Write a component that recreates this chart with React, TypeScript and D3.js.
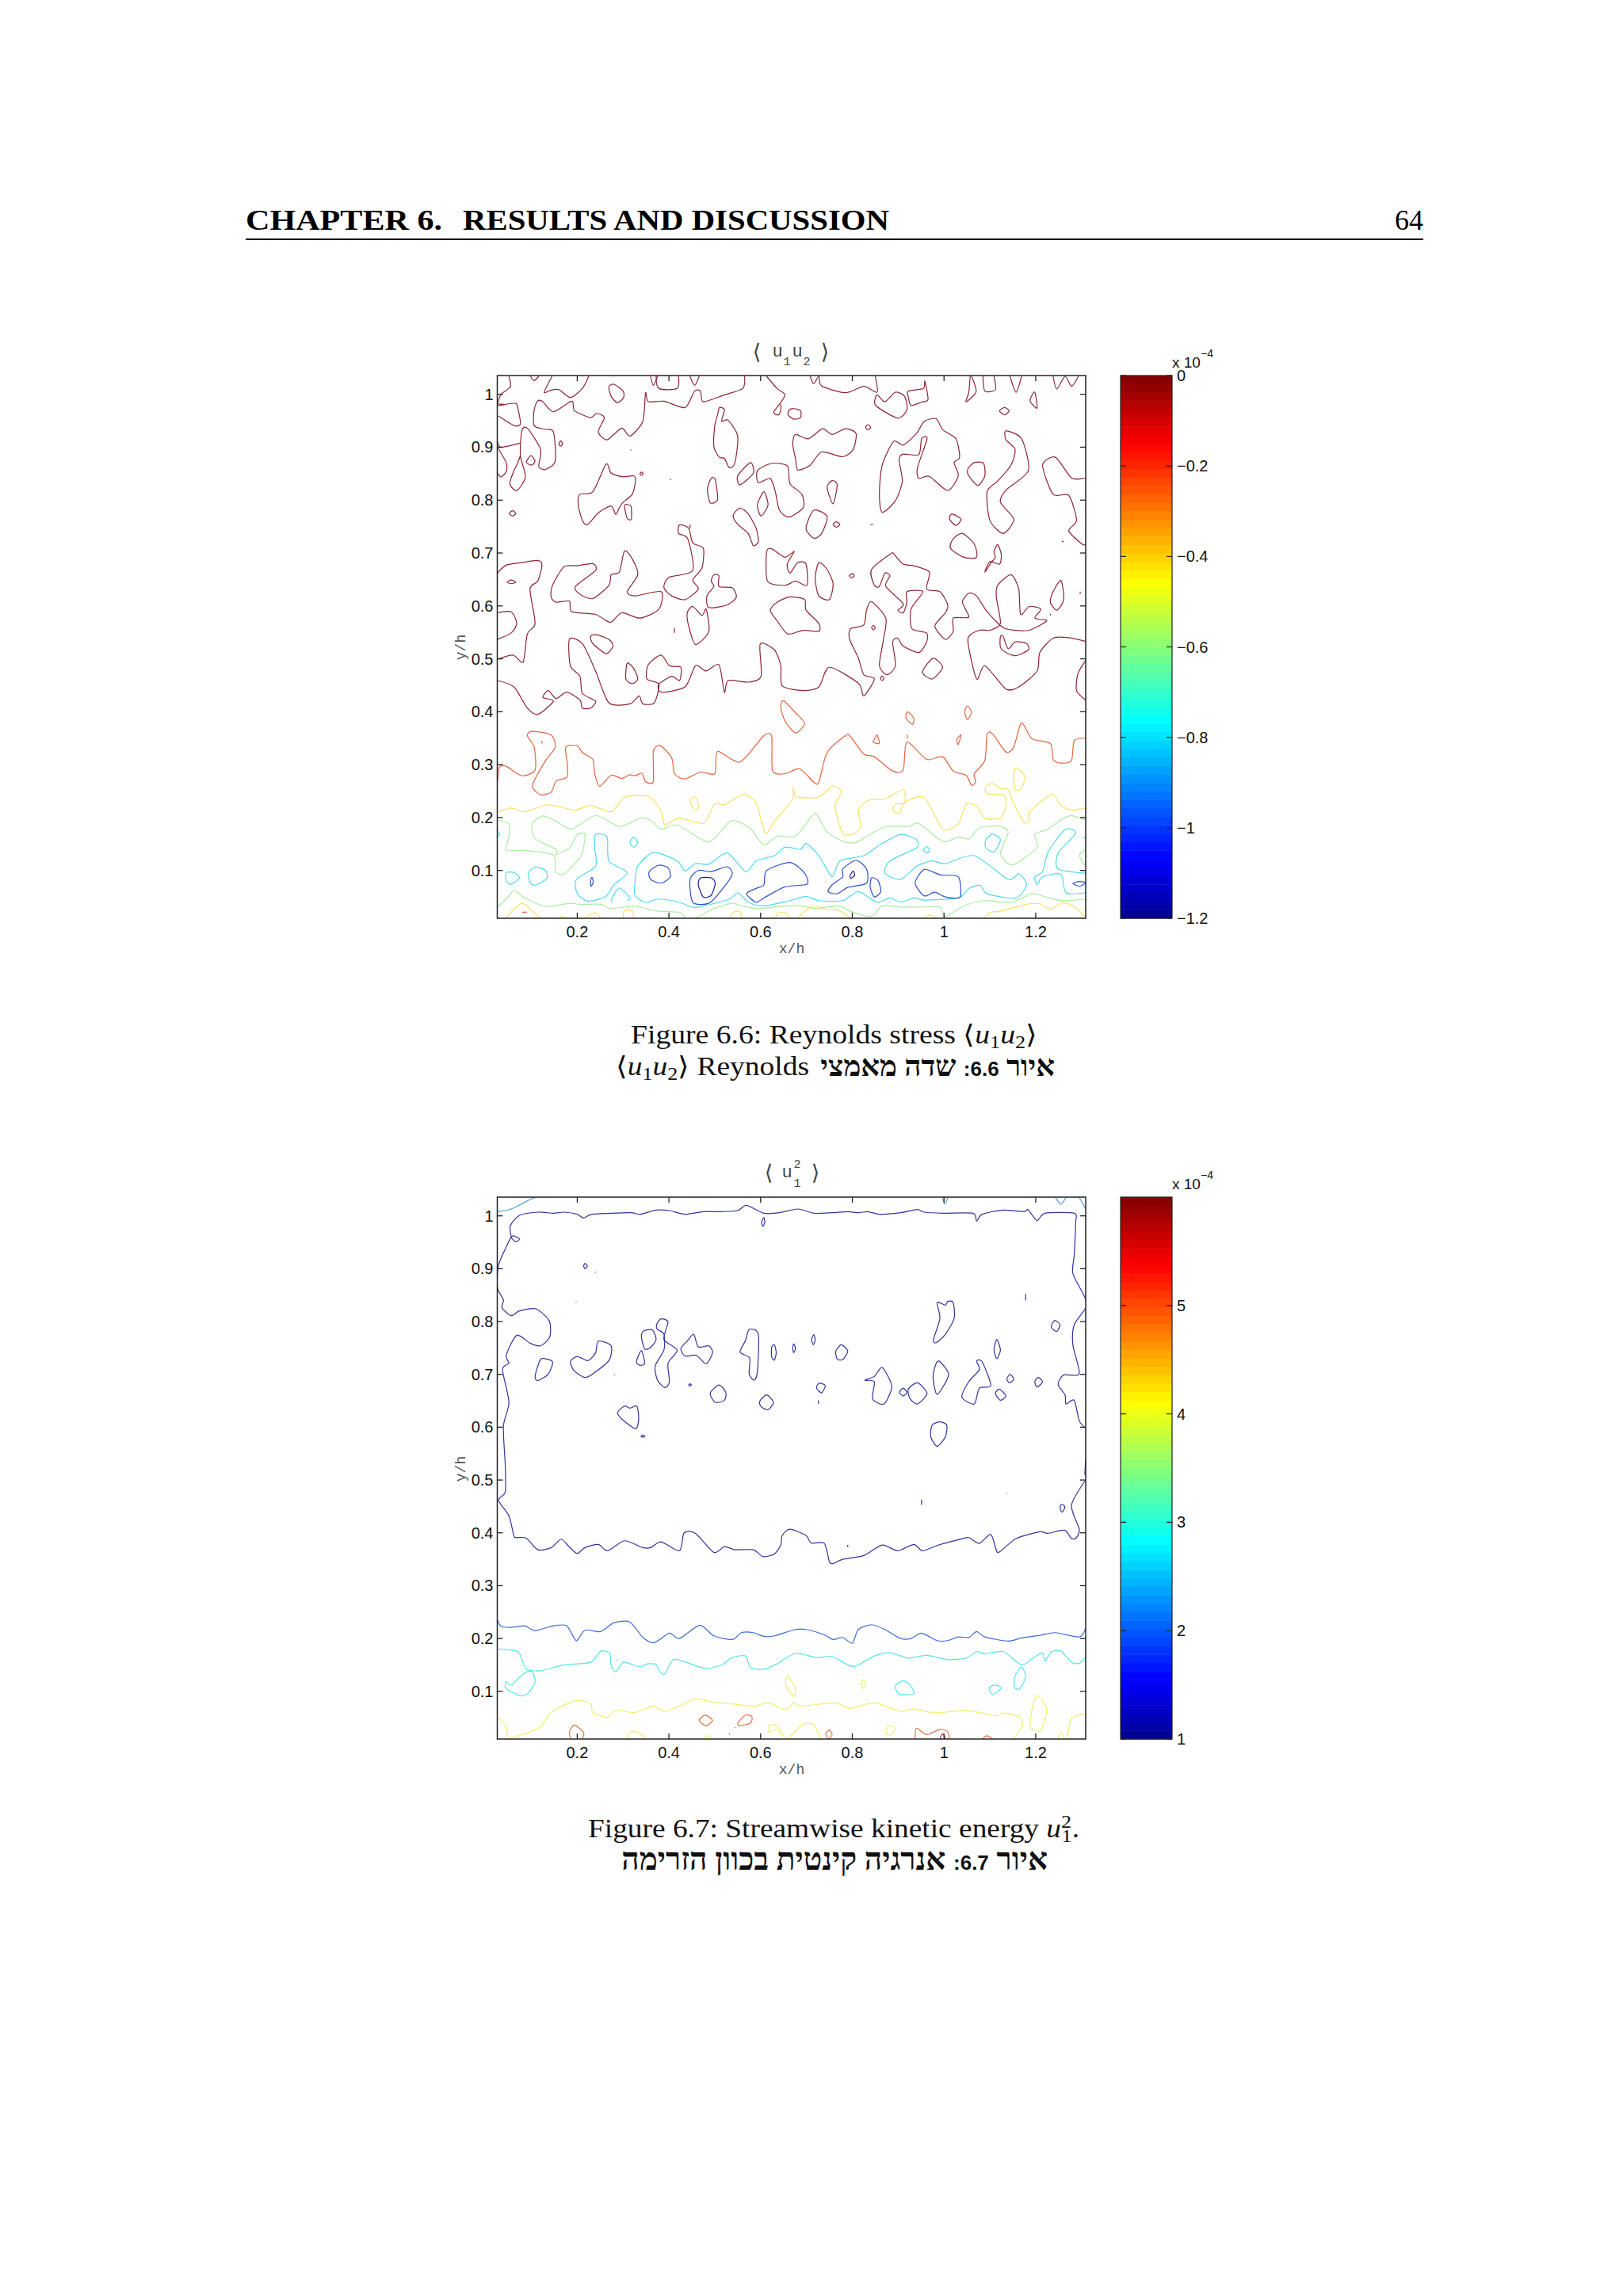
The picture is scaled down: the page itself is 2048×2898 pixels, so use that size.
import React from 'react';
import * as d3 from 'd3';

type Pt = number[];

// tick labels
const xTicks = [0.2, 0.4, 0.6, 0.8, 1, 1.2];
const yTicks = [0.1, 0.2, 0.3, 0.4, 0.5, 0.6, 0.7, 0.8, 0.9, 1];
const xDomain = [0.0256, 1.309];
const yDomain = [0.0097, 1.0355];
const stressBarTicks = [0, -0.2, -0.4, -0.6, -0.8, -1, -1.2];
const energyBarTicks = [1, 2, 3, 4, 5];

// <u1u2> contours, one pair of lists per level, in x/h and y/h
const stressDarkOpen: Pt[][] = [
  [[.051,1.034],[.054,1.014],[.034,1],[.027,.984]],
  [[.026,.982],[.043,.981],[.026,.979]],
  [[.098,1.034],[.106,1.026],[.116,1.034]],
  [[.145,1.034],[.128,1.004],[.143,1.008],[.16,1.009],[.185,.994],[.211,1.011],[.225,1.034]],
  [[.565,1.034],[.561,1.011],[.521,.999],[.475,.986],[.469,1.006],[.456,1.006],[.435,.975],[.389,.987],[.355,.986],[.349,1.003],[.343,.949],[.315,.921],[.297,.936],[.265,.914],[.246,.929],[.259,.956],[.242,.964],[.229,.956],[.194,.969],[.188,.987],[.148,.967],[.125,.986],[.114,.988],[.106,.971],[.106,.941],[.128,.934],[.148,.929],[.152,.874],[.131,.858],[.116,.864],[.12,.896],[.091,.936],[.079,.931],[.076,.884],[.087,.844],[.068,.818],[.053,.831],[.062,.856],[.068,.866],[.076,.884]],
  [[.026,.911],[.034,.9],[.077,.908]],
  [[.026,.9],[.045,.871],[.045,.854],[.034,.844],[.026,.851]],
  [[.028,.959],[.062,.941],[.076,.944],[.07,.976],[.066,.983],[.043,.981]],
  [[.317,.896],[.317,.894]],
  [[.403,.84],[.403,.838]],
  [[.613,1.034],[.636,1.011],[.653,.999],[.641,.981],[.628,.966],[.639,.961],[.644,.971],[.644,.981]],
  [[.36,1.034],[.366,1.017],[.375,1.034]],
  [[.421,1.034],[.418,1.011],[.378,1.011],[.372,1.034]],
  [[.446,1.034],[.456,1.017],[.466,1.034]],
  [[.708,1.034],[.716,1.02],[.727,1.034],[.733,1.016],[.785,1.003],[.825,1.015],[.854,1.004],[.85,1.034]],
  [[1.06,1.034],[1.07,1.005],[1.048,.986],[1.054,1.004],[1.057,1.034]],
  [[1.085,1.034],[1.089,1.006],[1.112,1.009],[1.109,1.034]],
  [[1.144,1.034],[1.157,1.004],[1.169,1.034]],
  [[1.238,1.034],[1.246,1.01],[1.264,1.034],[1.278,1.015],[1.293,1.034]],
  [[1.309,.842],[1.278,.842],[1.243,.881],[1.215,.866],[1.238,.811],[1.272,.809],[1.289,.762],[1.272,.742],[1.301,.717],[1.309,.716]],
  [[.84,.754],[.845,.754]],
  [[1.257,.722],[1.261,.722]],
  [[1.297,.627],[1.297,.623]],
  [[.446,.754],[.446,.747]],
  [[.026,.662],[.045,.677],[.079,.682],[.114,.686],[.123,.677],[.114,.647],[.097,.632],[.108,.567],[.091,.547],[.082,.494],[.06,.507],[.026,.499]],
  [[.026,.587],[.056,.589],[.068,.567],[.056,.549],[.026,.537]],
  [[.412,.559],[.412,.549]],
  [[1.232,.585],[1.232,.582]],
  [[1.309,.497],[1.292,.472],[1.289,.44],[1.309,.422]],
  [[.888,.701],[.911,.679],[.934,.676],[.968,.664],[.962,.632],[.991,.627],[1.008,.602],[1.003,.587],[.98,.562],[1.003,.537],[1.02,.552],[1.02,.577],[1.054,.579],[1.04,.607],[1.054,.624],[1.071,.619],[1.094,.589],[1.129,.559],[1.157,.554],[1.186,.554],[1.224,.572],[1.198,.577],[1.211,.594],[1.186,.599],[1.167,.584],[1.163,.632],[1.146,.659],[1.117,.639],[1.114,.617],[1.123,.567],[1.1,.554],[1.077,.554],[1.052,.537],[1.071,.462],[1.089,.487],[1.135,.443],[1.163,.447],[1.203,.477],[1.209,.512],[1.238,.539],[1.272,.54],[1.309,.533]],
  [[.888,.701],[.842,.669],[.848,.639],[.859,.637],[.871,.662],[.882,.657],[.873,.637],[.911,.604],[.899,.592],[.911,.587],[.919,.607],[.919,.627],[.954,.627],[.928,.594],[.93,.557],[.962,.549],[.962,.532],[.945,.512],[.911,.524],[.899,.539],[.888,.532],[.894,.487],[.876,.47],[.859,.487],[.868,.537],[.873,.577],[.842,.608],[.831,.592],[.825,.564],[.796,.557],[.794,.537],[.813,.502],[.825,.47],[.848,.462],[.825,.43],[.813,.454],[.75,.484],[.727,.447],[.693,.44],[.647,.449],[.644,.487],[.63,.517],[.599,.528],[.601,.467],[.573,.456],[.529,.459],[.521,.437],[.509,.489],[.481,.477],[.458,.487],[.435,.447],[.383,.437],[.378,.452],[.406,.467],[.423,.459],[.426,.484],[.401,.487],[.383,.507],[.355,.489],[.352,.462],[.378,.452],[.368,.417],[.343,.415],[.335,.43],[.315,.415],[.269,.417],[.24,.477],[.211,.529],[.183,.537],[.185,.487],[.206,.467],[.211,.435],[.24,.42],[.229,.407],[.211,.407],[.206,.422],[.177,.437],[.154,.425],[.137,.44],[.125,.427],[.148,.42],[.114,.395],[.091,.407],[.062,.447],[.026,.459]],
];
const stressDarkRings: Pt[][] = [
  [[.269,1.014],[.28,1.019],[.3,1.006],[.301,.994],[.288,.984],[.274,.996]],
  [[.099,.884],[.108,.874],[.1,.866],[.089,.872]],
  [[.164,.912],[.168,.906],[.164,.902],[.16,.906]],
  [[.34,.853],[.344,.85],[.34,.847],[.337,.85]],
  [[.263,.868],[.274,.851],[.3,.844],[.323,.846],[.327,.836],[.32,.811],[.3,.796],[.292,.786],[.284,.773],[.274,.789],[.246,.776],[.223,.754],[.211,.762],[.202,.792],[.206,.811],[.234,.816]],
  [[.303,.79],[.317,.789],[.318,.764],[.309,.766]],
  [[.059,.78],[.066,.775],[.059,.77],[.052,.775]],
  [[.51,.975],[.521,.971],[.515,.949],[.529,.951],[.55,.921],[.544,.871],[.532,.861],[.521,.879],[.51,.881],[.498,.901],[.5,.941],[.506,.961]],
  [[.672,.973],[.687,.969],[.687,.956],[.673,.953],[.66,.961],[.662,.97]],
  [[.854,.999],[.851,.979],[.899,.955],[.919,.971],[.914,.996],[.894,1.004],[.871,.986]],
  [[.922,1.006],[.955,1.011],[.958,1.025],[.965,.99],[.95,.985],[.928,.979],[.922,.995]],
  [[1.198,1.004],[1.203,.974],[1.188,.986],[1.19,.995]],
  [[1.132,.975],[1.142,.969],[1.132,.961],[1.121,.969]],
  [[.834,.943],[.84,.937],[.834,.933],[.829,.937]],
  [[.676,.924],[.704,.916],[.735,.935],[.756,.924],[.785,.935],[.808,.926],[.802,.896],[.779,.882],[.733,.891],[.708,.866],[.681,.857],[.676,.879],[.67,.906]],
  [[.89,.911],[.911,.904],[.94,.926],[.957,.949],[.983,.954],[.997,.933],[1.026,.916],[1.034,.881],[1.022,.871],[1.031,.846],[1.008,.818],[.968,.845],[.945,.841],[.942,.861],[.963,.916],[.951,.916],[.945,.886],[.911,.887],[.902,.876],[.909,.836],[.894,.799],[.865,.777],[.859,.811],[.865,.866]],
  [[1.066,.871],[1.086,.87],[1.089,.846],[1.074,.828],[1.054,.846],[1.052,.859]],
  [[1.135,.931],[1.169,.916],[1.184,.856],[1.135,.819],[1.123,.796],[1.152,.764],[1.129,.737],[1.1,.762],[1.094,.816],[1.117,.836],[1.146,.866],[1.155,.896],[1.135,.914]],
  [[.492,.841],[.501,.839],[.506,.801],[.49,.795],[.484,.821]],
  [[.578,.871],[.55,.846],[.555,.829],[.584,.851]],
  [[.63,.87],[.659,.864],[.664,.831],[.69,.811],[.693,.786],[.662,.768],[.641,.781],[.632,.816],[.621,.841],[.595,.833],[.592,.854],[.607,.864]],
  [[.607,.816],[.616,.791],[.601,.77],[.593,.791]],
  [[.756,.837],[.767,.829],[.758,.793],[.745,.824]],
  [[.555,.785],[.573,.774],[.59,.747],[.595,.722],[.584,.714],[.573,.737],[.55,.754],[.54,.771]],
  [[.716,.781],[.745,.769],[.733,.737],[.716,.728],[.699,.747]],
  [[.765,.759],[.773,.754],[.765,.749],[.758,.754]],
  [[1.017,.774],[1.037,.764],[1.026,.752],[1.012,.764]],
  [[1.04,.737],[1.066,.717],[1.071,.692],[1.043,.692],[1.014,.709],[1.02,.727]],
  [[1.117,.716],[1.125,.697],[1.121,.679],[1.1,.684],[1.089,.664],[1.103,.682],[1.112,.692],[1.109,.702]],
  [[.423,.753],[.443,.747],[.452,.719],[.475,.709],[.472,.672],[.452,.649],[.464,.632],[.435,.612],[.406,.619],[.389,.635],[.4,.654],[.452,.667],[.441,.727],[.421,.737]],
  [[.056,.649],[.066,.645],[.056,.642],[.047,.645]],
  [[.234,.68],[.24,.667],[.196,.637],[.206,.622],[.234,.614],[.269,.639],[.274,.659],[.292,.664],[.303,.704],[.32,.689],[.332,.659],[.309,.627],[.326,.619],[.383,.627],[.378,.594],[.337,.577],[.297,.587],[.272,.569],[.24,.584],[.188,.589],[.183,.609],[.154,.607],[.143,.617],[.146,.639],[.171,.674],[.2,.676]],
  [[.498,.659],[.509,.657],[.509,.637],[.538,.634],[.547,.617],[.527,.602],[.487,.597],[.483,.619],[.498,.637],[.492,.647]],
  [[.613,.702],[.624,.708],[.653,.692],[.673,.703],[.658,.679],[.664,.662],[.681,.682],[.699,.679],[.701,.639],[.676,.647],[.653,.639],[.615,.647]],
  [[.727,.682],[.745,.669],[.758,.642],[.75,.612],[.727,.619],[.719,.652]],
  [[.8,.661],[.804,.657],[.798,.653],[.793,.657]],
  [[.309,.492],[.323,.482],[.332,.462],[.32,.453],[.306,.462]],
  [[.24,.546],[.269,.537],[.278,.524],[.263,.51],[.234,.529],[.229,.542]],
  [[.452,.599],[.472,.582],[.481,.594],[.487,.552],[.458,.527],[.443,.562],[.44,.587]],
  [[.664,.617],[.696,.612],[.699,.592],[.727,.567],[.727,.552],[.693,.554],[.659,.547],[.636,.572],[.621,.592],[.636,.607]],
  [[.846,.563],[.85,.559],[.846,.555],[.842,.559]],
  [[1.255,.648],[1.261,.612],[1.246,.592],[1.232,.607],[1.238,.627]],
  [[1.129,.542],[1.14,.519],[1.155,.532],[1.18,.529],[1.184,.517],[1.157,.506],[1.135,.512],[1.123,.522],[1.123,.542]],
  [[.976,.501],[.997,.484],[.974,.462],[.953,.475]],
  [[.865,.467],[.869,.463],[.865,.459],[.861,.463]],
];
const stressOrangeOpen: Pt[][] = [
  [[.026,.267],[.03,.295],[.045,.297],[.079,.279],[.108,.29],[.106,.333],[.091,.355],[.102,.363],[.143,.356],[.152,.333],[.131,.308],[.108,.273],[.102,.258],[.12,.243],[.143,.248],[.154,.269],[.177,.276],[.179,.298],[.175,.333],[.2,.336],[.211,.323],[.234,.31],[.238,.283],[.249,.259],[.274,.28],[.297,.274],[.315,.281],[.326,.279],[.341,.284],[.349,.268],[.366,.268],[.366,.325],[.381,.336],[.406,.313],[.412,.283],[.435,.273],[.469,.286],[.5,.283],[.506,.325],[.555,.305],[.607,.355],[.624,.353],[.626,.288],[.653,.283],[.685,.292],[.716,.267],[.727,.267],[.745,.323],[.785,.355],[.796,.353],[.825,.32],[.848,.315],[.888,.288],[.911,.29],[.919,.343],[.962,.31],[.997,.315],[1.02,.288],[1.048,.28],[1.06,.261],[1.069,.268],[1.066,.283],[1.089,.308],[1.094,.358],[1.106,.358],[1.135,.324],[1.152,.333],[1.169,.379],[1.192,.349],[1.232,.34],[1.238,.31],[1.255,.303],[1.278,.308],[1.284,.345],[1.309,.35]],
  [[.123,.345],[.123,.34]],
  [[.92,.357],[.92,.349]],
  [[.08,.021],[.09,.021]],
];
const stressOrangeRings: Pt[][] = [
  [[.65,.421],[.676,.398],[.696,.378],[.676,.36],[.653,.383],[.644,.408]],
  [[.92,.4],[.934,.388],[.931,.376],[.917,.388]],
  [[1.051,.411],[1.06,.399],[1.051,.385],[1.045,.4]],
  [[.854,.356],[.859,.34],[.845,.343],[.85,.35]],
  [[1.037,.356],[1.031,.338],[1.028,.348]],
];
const stressYellowOpen: Pt[][] = [
  [[.026,.21],[.056,.218],[.085,.211],[.137,.224],[.194,.214],[.229,.223],[.274,.211],[.303,.238],[.355,.24],[.383,.213],[.391,.187],[.423,.199],[.475,.189],[.5,.226],[.521,.224],[.561,.243],[.59,.228],[.61,.171],[.63,.193],[.67,.235],[.67,.258],[.679,.239],[.727,.239],[.758,.26],[.777,.248],[.762,.223],[.779,.17],[.802,.169],[.819,.183],[.813,.213],[.836,.233],[.871,.235],[.911,.253],[.914,.228],[.894,.225],[.888,.213],[.903,.208],[.914,.228],[.957,.238],[.997,.178],[1.031,.188],[1.048,.225],[1.071,.222],[1.089,.199],[1.123,.199],[1.135,.223],[1.129,.243],[1.094,.245],[1.091,.258],[1.106,.264],[1.123,.255],[1.14,.253],[1.146,.238],[1.163,.208],[1.175,.19],[1.186,.193],[1.186,.21],[1.235,.244],[1.255,.223],[1.278,.214],[1.309,.218]],
  [[.045,.01],[.079,.038],[.108,.018],[.12,.01]],
  [[.16,.01],[.168,.014],[.173,.01]],
  [[.217,.01],[.238,.02],[.251,.01]],
  [[.3,.01],[.303,.024],[.32,.024],[.323,.01]],
  [[.532,.01],[.542,.022],[.555,.022],[.559,.01]],
  [[.632,.01],[.639,.02],[.655,.02],[.661,.01]],
  [[.681,.01],[.714,.033],[.745,.026],[.767,.026],[.796,.01]],
  [[.957,.01],[.968,.016],[.982,.01]],
  [[1.089,.01],[1.1,.021],[1.123,.023],[1.18,.036],[1.209,.037],[1.232,.027],[1.26,.039],[1.289,.028],[1.309,.012]],
];
const stressYellowRings: Pt[][] = [
  [[.452,.238],[.461,.235],[.464,.218],[.456,.213],[.446,.23]],
  [[1.157,.294],[1.176,.278],[1.169,.255],[1.155,.253],[1.152,.278]],
];
const stressGreenOpen: Pt[][] = [
  [[.026,.195],[.051,.188],[.051,.163],[.045,.138],[.085,.138],[.148,.129],[.152,.098],[.171,.093],[.2,.118],[.211,.133],[.217,.168],[.2,.168],[.183,.143],[.154,.13],[.154,.14],[.108,.16],[.102,.188],[.125,.203],[.154,.193],[.188,.178],[.24,.204],[.292,.183],[.337,.199],[.36,.195],[.383,.178],[.418,.186],[.487,.154],[.536,.194],[.578,.179],[.607,.148],[.636,.165],[.676,.165],[.716,.207],[.727,.2],[.745,.173],[.779,.155],[.808,.153],[.842,.17],[.876,.183],[.922,.183],[.945,.189],[.997,.155],[1.031,.163],[1.054,.16],[1.077,.18],[1.117,.184],[1.14,.173],[1.123,.133],[1.14,.113],[1.157,.113],[1.203,.143],[1.198,.168],[1.226,.178],[1.272,.203],[1.309,.195]],
  [[1.309,.14],[1.295,.128],[1.309,.108]],
  [[.026,.031],[.045,.046],[.062,.062],[.085,.048],[.131,.032],[.183,.038],[.206,.036],[.251,.036],[.274,.028],[.326,.033],[.349,.028],[.378,.023],[.423,.021],[.435,.01]],
  [[.458,.01],[.498,.028],[.538,.038],[.561,.033],[.595,.028],[.653,.033],[.687,.033],[.722,.028],[.767,.033],[.802,.021],[.842,.013],[.865,.033],[.905,.031],[.951,.031],[.991,.031],[1.003,.013],[1.043,.033],[1.089,.043],[1.146,.04],[1.192,.056],[1.226,.049],[1.261,.043],[1.309,.046]],
];
const stressCyanOpen: Pt[][] = [
  [[.026,.175],[.031,.168],[.026,.163]],
  [[1.309,.165],[1.305,.16]],
  [[1.309,.095],[1.249,.103],[1.249,.133],[1.287,.17],[1.272,.179],[1.255,.17],[1.226,.133],[1.215,.098],[1.198,.088],[1.203,.073],[1.215,.088],[1.255,.093],[1.266,.058],[1.309,.058]],
  [[.274,.04],[.277,.05],[.292,.067],[.315,.048],[.309,.043]],
];
const stressCyanRings: Pt[][] = [
  [[.045,.096],[.062,.096],[.074,.086],[.056,.074],[.045,.08]],
  [[.108,.106],[.131,.1],[.134,.085],[.108,.072],[.097,.078],[.093,.095]],
  [[.323,.163],[.332,.153],[.323,.144],[.315,.153]],
  [[.963,.145],[.968,.139],[.963,.133],[.955,.139]],
  [[1.106,.169],[1.123,.158],[1.109,.135],[1.091,.143],[1.091,.158]],
  [[.24,.168],[.265,.163],[.269,.118],[.309,.096],[.28,.073],[.261,.05],[.223,.042],[.2,.056],[.198,.083],[.24,.108],[.238,.143]],
  [[.326,.078],[.332,.108],[.366,.134],[.418,.118],[.435,.099],[.458,.113],[.487,.112],[.527,.133],[.567,.098],[.59,.118],[.63,.128],[.653,.144],[.687,.14],[.699,.151],[.727,.128],[.756,.088],[.773,.118],[.825,.128],[.859,.148],[.905,.168],[.94,.158],[.94,.143],[.882,.118],[.871,.095],[.905,.083],[.94,.108],[.974,.118],[1.003,.113],[1.066,.128],[1.14,.083],[1.163,.094],[1.18,.073],[1.157,.048],[1.094,.056],[1.079,.072],[1.054,.066],[1.031,.048],[.957,.044],[.934,.048],[.905,.04],[.882,.048],[.854,.04],[.813,.06],[.779,.043],[.727,.043],[.699,.051],[.664,.043],[.607,.033],[.573,.04],[.55,.058],[.532,.046],[.458,.03],[.423,.04],[.378,.046],[.349,.04],[.326,.053]],
];
const stressBlueRings: Pt[][] = [
  [[.378,.11],[.398,.105],[.403,.088],[.383,.076],[.36,.083],[.357,.098]],
  [[.464,.1],[.492,.098],[.527,.107],[.538,.093],[.515,.063],[.487,.038],[.452,.04],[.446,.083]],
  [[.664,.115],[.696,.095],[.701,.074],[.653,.069],[.607,.048],[.59,.04],[.569,.056],[.59,.066],[.607,.073],[.613,.1]],
  [[.808,.119],[.831,.103],[.831,.076],[.79,.068],[.767,.056],[.747,.06],[.756,.073],[.779,.088],[.779,.103]],
  [[.842,.086],[.856,.081],[.862,.06],[.848,.05],[.839,.068]],
  [[.957,.102],[.991,.092],[1.031,.088],[1.035,.05],[1.003,.05],[.98,.059],[.957,.052],[.937,.076]],
  [[1.281,.076],[1.295,.079],[1.309,.077],[1.295,.07]],
  [[.232,.087],[.235,.078],[.23,.07],[.229,.08]],
];
const stressNavyRings: Pt[][] = [
  [[.469,.086],[.492,.086],[.501,.076],[.492,.053],[.475,.05],[.464,.073]],
  [[.802,.099],[.805,.091],[.797,.085],[.795,.09]],
];

// <u1^2> contours
const energyNavyOpen: Pt[][] = [
  [[.056,.961],[.054,.981],[.074,1.001],[.114,1.007],[.148,1.005],[.171,1.007],[.2,1.003],[.214,.996],[.234,1.003],[.315,1.006],[.337,1.003],[.372,1.011],[.401,1.01],[.435,1.003],[.475,1.008],[.515,1.008],[.55,1.01],[.569,1.02],[.607,1.005],[.641,1.006],[.681,1.013],[.716,1.005],[.756,1.006],[.79,1.008],[.813,1.006],[.834,1.008],[.859,1.003],[.905,1.006],[.942,1.012],[.957,1.007],[.997,1.005],[1.063,1.005],[1.071,.99],[1.083,1.003],[1.129,1.011],[1.175,1.008],[1.183,1.012],[1.203,.991],[1.22,1.005],[1.284,1.005],[1.287,.986],[1.284,.926],[1.281,.891],[1.307,.846],[1.309,.826],[1.284,.794],[1.281,.756],[1.295,.701],[1.261,.699],[1.249,.681],[1.264,.661],[1.266,.644],[1.284,.651],[1.295,.612],[1.309,.598]],
  [[.056,.961],[.045,.941],[.028,.906],[.026,.864],[.039,.841],[.036,.826],[.056,.811],[.074,.82],[.11,.824],[.139,.801],[.14,.771],[.12,.754],[.097,.759],[.068,.774],[.045,.736],[.051,.721],[.037,.709],[.051,.647],[.039,.602],[.043,.527],[.043,.477],[.028,.462],[.051,.432],[.062,.394],[.068,.391],[.089,.39],[.114,.368],[.143,.372],[.165,.388],[.183,.373],[.2,.361],[.217,.372],[.246,.378],[.266,.366],[.303,.385],[.343,.372],[.36,.372],[.383,.383],[.423,.366],[.433,.4],[.458,.399],[.498,.363],[.521,.374],[.544,.368],[.584,.368],[.605,.355],[.63,.36],[.644,.377],[.647,.395],[.664,.407],[.699,.395],[.71,.381],[.739,.38],[.75,.345],[.759,.342],[.779,.35],[.825,.357],[.865,.377],[.899,.366],[.934,.378],[.953,.366],[.985,.376],[1.031,.387],[1.054,.391],[1.077,.38],[1.102,.397],[1.115,.365],[1.123,.365],[1.157,.389],[1.209,.402],[1.226,.399],[1.263,.405],[1.278,.389],[1.289,.391],[1.295,.407],[1.278,.452],[1.309,.5]],
  [[1.309,.54],[1.307,.51]],
  [[.239,.894],[.24,.893]],
  [[.197,.838],[.198,.837]],
  [[.281,.7],[.282,.699]],
  [[1.178,.852],[1.178,.84]],
  [[.726,.651],[.726,.644]],
  [[.951,.463],[.951,.453]],
  [[1.137,.475],[1.138,.474]],
  [[.79,.377],[.79,.373]],
];
const energyNavyRings: Pt[][] = [
  [[.607,.997],[.609,.988],[.605,.98],[.602,.988]],
  [[.062,.962],[.074,.956],[.066,.951],[.056,.959]],
  [[.217,.91],[.222,.905],[.217,.9],[.214,.905]],
  [[.985,.836],[1.003,.831],[1.008,.838],[1.02,.836],[1.022,.806],[1.003,.776],[.983,.76],[.977,.766],[.991,.806]],
  [[1.243,.802],[1.253,.794],[1.246,.781],[1.234,.789],[1.238,.799]],
  [[.383,.805],[.398,.799],[.389,.766],[.418,.746],[.398,.721],[.401,.686],[.391,.675],[.375,.689],[.37,.716],[.389,.746],[.389,.776],[.374,.786],[.374,.796]],
  [[.345,.782],[.364,.784],[.372,.766],[.36,.751],[.347,.748],[.34,.771]],
  [[.34,.745],[.347,.721],[.337,.717],[.329,.724]],
  [[.454,.776],[.464,.752],[.487,.754],[.495,.741],[.481,.72],[.46,.736],[.435,.735],[.426,.749],[.441,.764]],
  [[.575,.785],[.595,.776],[.593,.706],[.586,.689],[.575,.701],[.576,.731],[.555,.742],[.567,.764]],
  [[.63,.756],[.634,.741],[.63,.727],[.624,.734],[.624,.751]],
  [[.672,.758],[.676,.749],[.672,.741],[.67,.749]],
  [[.716,.775],[.719,.766],[.715,.756],[.711,.766]],
  [[.776,.756],[.79,.744],[.779,.728],[.767,.729],[.764,.744]],
  [[1.115,.766],[1.123,.746],[1.115,.73],[1.109,.746]],
  [[.246,.763],[.274,.754],[.269,.726],[.234,.701],[.217,.694],[.194,.706],[.185,.724],[.2,.734],[.223,.726],[.24,.741]],
  [[.123,.73],[.146,.724],[.137,.701],[.114,.688],[.108,.696],[.116,.721]],
  [[.865,.713],[.886,.679],[.876,.652],[.865,.643],[.844,.654],[.848,.686],[.827,.689],[.848,.696]],
  [[.911,.674],[.919,.666],[.911,.659],[.903,.666]],
  [[.942,.684],[.963,.664],[.942,.644],[.926,.654],[.922,.672]],
  [[.991,.724],[1.01,.699],[.985,.662],[.976,.696],[.983,.721]],
  [[1.071,.725],[1.083,.724],[1.102,.679],[1.077,.674],[1.066,.644],[1.039,.657],[1.054,.686],[1.077,.709]],
  [[1.121,.672],[1.135,.659],[1.123,.651],[1.112,.664]],
  [[1.144,.7],[1.152,.691],[1.143,.684],[1.137,.691]],
  [[1.205,.694],[1.215,.686],[1.203,.676],[1.198,.686]],
  [[.727,.683],[.741,.679],[.733,.665],[.722,.674]],
  [[.509,.68],[.524,.666],[.521,.651],[.501,.647],[.49,.664]],
  [[.613,.661],[.628,.647],[.616,.633],[.601,.639],[.598,.649]],
  [[.446,.682],[.449,.68],[.446,.678],[.443,.68]],
  [[.303,.64],[.315,.636],[.33,.64],[.334,.616],[.328,.597],[.303,.611],[.288,.627]],
  [[.343,.585],[.348,.583],[.343,.581],[.339,.583]],
  [[.991,.61],[1.006,.604],[1.003,.582],[.985,.564],[.971,.582],[.974,.604]],
  [[1.257,.454],[1.264,.449],[1.257,.439],[1.253,.449]],
];
const energyBlueOpen: Pt[][] = [
  [[.026,.235],[.034,.223],[.056,.221],[.085,.224],[.108,.215],[.148,.224],[.177,.224],[.198,.196],[.217,.216],[.251,.213],[.28,.23],[.315,.231],[.343,.202],[.368,.192],[.401,.21],[.423,.2],[.467,.225],[.498,.205],[.538,.198],[.558,.211],[.584,.211],[.607,.204],[.63,.205],[.676,.217],[.699,.217],[.739,.207],[.758,.198],[.779,.202],[.8,.191],[.813,.217],[.842,.226],[.871,.217],[.905,.2],[.928,.2],[.951,.21],[.985,.196],[1.008,.196],[1.031,.203],[1.054,.202],[1.071,.213],[1.089,.203],[1.14,.195],[1.169,.201],[1.209,.206],[1.243,.211],[1.295,.203],[1.309,.22]],
];
const energySkyOpen: Pt[][] = [
  [[.026,1.008],[.056,1.013],[.097,1.031],[.108,1.035]],
  [[.997,1.035],[1.002,1.022],[1.008,1.035]],
  [[1.243,1.035],[1.255,1.022],[1.266,1.035]],
  [[1.295,1.035],[1.309,1.013]],
];
const energyCyanOpen: Pt[][] = [
  [[.026,.18],[.068,.176],[.079,.162],[.089,.142],[.12,.139],[.171,.15],[.229,.155],[.251,.176],[.271,.172],[.274,.15],[.284,.137],[.301,.155],[.337,.146],[.352,.152],[.372,.151],[.38,.137],[.392,.133],[.412,.161],[.475,.144],[.515,.15],[.538,.164],[.567,.167],[.578,.145],[.607,.142],[.636,.152],[.676,.172],[.722,.164],[.756,.166],[.802,.147],[.848,.167],[.882,.173],[.922,.163],[.962,.168],[1.008,.16],[1.048,.163],[1.071,.175],[1.089,.171],[1.129,.175],[1.169,.15],[1.192,.162],[1.215,.173],[1.22,.157],[1.235,.175],[1.255,.176],[1.278,.155],[1.295,.153],[1.309,.165]],
  [[.287,.161],[.288,.158]],
];
const energyCyanRings: Pt[][] = [
  [[.045,.118],[.056,.112],[.085,.135],[.102,.137],[.108,.117],[.091,.095],[.074,.092],[.045,.105]],
  [[.911,.12],[.926,.112],[.934,.095],[.902,.095],[.894,.11]],
  [[1.169,.146],[1.178,.127],[1.165,.105],[1.154,.107],[1.154,.127]],
  [[1.112,.112],[1.125,.106],[1.106,.094],[1.098,.107]],
];
const energyYellowOpen: Pt[][] = [
  [[.026,.05],[.045,.035],[.051,.013],[.085,.02],[.12,.033],[.143,.06],[.194,.082],[.229,.077],[.234,.06],[.266,.051],[.284,.064],[.326,.06],[.366,.072],[.389,.062],[.423,.072],[.458,.086],[.493,.08],[.55,.075],[.584,.072],[.618,.078],[.653,.065],[.672,.078],[.687,.072],[.762,.078],[.796,.068],[.848,.078],[.905,.062],[.934,.067],[.98,.059],[1.043,.064],[1.089,.058],[1.117,.053],[1.129,.059],[1.163,.052],[1.171,.037],[1.152,.01]],
  [[1.309,.058],[1.278,.048],[1.269,.01]],
  [[.618,.022],[.618,.035],[.636,.035],[.653,.01]],
  [[.618,.022],[.636,.027],[.644,.017]],
  [[.658,.01],[.693,.037],[.716,.037],[.73,.01]],
  [[.309,.01],[.315,.023],[.332,.022],[.352,.01]],
  [[.475,.01],[.483,.016],[.495,.01]],
  [[1.249,.01],[1.255,.023],[1.263,.01]],
  [[1.048,.01],[1.048,.014]],
];
const energyYellowRings: Pt[][] = [
  [[.658,.129],[.676,.107],[.672,.09],[.655,.112]],
  [[.825,.122],[.829,.112],[.824,.105],[.819,.115]],
  [[1.203,.092],[1.224,.067],[1.215,.033],[1.207,.024],[1.188,.033],[1.192,.067]],
  [[.88,.035],[.894,.03],[.882,.017],[.873,.022]],
];
const energyOrangeOpen: Pt[][] = [
  [[.186,.01],[.183,.023],[.194,.036],[.214,.022],[.211,.01]],
  [[.75,.027],[.756,.018],[.748,.01],[.742,.02],[.75,.027]],
  [[.937,.01],[.94,.03],[.962,.018],[.991,.028],[1.008,.023],[1.012,.01]],
  [[1.083,.01],[1.094,.016],[1.106,.01]],
  [[.543,.032],[.545,.031]],
  [[.532,.021],[.532,.018]],
];
const energyOrangeRings: Pt[][] = [
  [[.479,.055],[.495,.045],[.481,.035],[.466,.045]],
  [[.567,.055],[.581,.052],[.578,.04],[.555,.035],[.55,.04]],
];
const energyDarkOpen: Pt[][] = [
  [[.991,.01],[.997,.02],[1.003,.01]],
];

const stressColors = ['#8e2436', '#e4643f', '#f6e262', '#a9efa0', '#4ddaee', '#2f50c9', '#1b1b88'];
const energyColors = ['#33339e', '#3b6bd6', '#4a9be6', '#55e6ea', '#eef06c', '#e8703c', '#8e2436'];

// jet colormap stops for the colorbars
const jetStops = ['#00008f', '#0000ff', '#00ffff', '#ffff00', '#ff0000', '#800000'];
const jetAt = [0, 0.111, 0.365, 0.619, 0.873, 1];
const jet = d3.scaleLinear<string>().domain(jetAt).range(jetStops);
const bands = d3.range(64);

const plotLeft = 627.5;
const plotRight = 1370;
const barLeft = 1414;
const barRight = 1479;
const serif = '"Liberation Serif"';
const sans = '"Liberation Sans"';
const mono = '"Liberation Mono"';

const x = d3.scaleLinear().domain(xDomain).range([plotLeft, plotRight]);

type Sets = { color: string; open?: Pt[][]; rings?: Pt[][] }[];

function Panel({ id, top, bottom, sets, barDomain, barTicks }: { id: string; top: number; bottom: number; sets: Sets; barDomain: number[]; barTicks: number[] }) {
  const y = d3.scaleLinear().domain(yDomain).range([bottom, top]);
  const bar = d3.scaleLinear().domain(barDomain).range([bottom, top]);
  const openLine = d3.line<Pt>().x((d) => x(d[0])).y((d) => y(d[1])).curve(d3.curveCardinal.tension(0.25));
  const ringLine = d3.line<Pt>().x((d) => x(d[0])).y((d) => y(d[1])).curve(d3.curveCardinalClosed.tension(0.25));
  const bandH = (bottom - top) / bands.length;
  return (
    <g>
      <clipPath id={id}>
        <rect x={plotLeft} y={top} width={plotRight - plotLeft} height={bottom - top} />
      </clipPath>
      <g clipPath={`url(#${id})`} fill="none" strokeWidth={1.2} strokeLinejoin="round">
        {sets.map((s, i) => (
          <g key={i} stroke={s.color}>
            {(s.open || []).map((p, j) => <path key={j} d={openLine(p) || ''} />)}
            {(s.rings || []).map((p, j) => <path key={j} d={ringLine(p) || ''} />)}
          </g>
        ))}
      </g>
      <rect x={plotLeft} y={top} width={plotRight - plotLeft} height={bottom - top} fill="none" stroke="#222" strokeWidth={1.5} />
      {xTicks.map((t) => (
        <g key={t}>
          <line x1={x(t)} x2={x(t)} y1={bottom} y2={bottom - 7} stroke="#222" strokeWidth={1.3} />
          <line x1={x(t)} x2={x(t)} y1={top} y2={top + 7} stroke="#222" strokeWidth={1.3} />
          <text x={x(t)} y={bottom + 24} textAnchor="middle" fontFamily={sans} fontSize={20} fill="#111">{t}</text>
        </g>
      ))}
      {yTicks.map((t) => (
        <g key={t}>
          <line x1={plotLeft} x2={plotLeft + 7} y1={y(t)} y2={y(t)} stroke="#222" strokeWidth={1.3} />
          <line x1={plotRight} x2={plotRight - 7} y1={y(t)} y2={y(t)} stroke="#222" strokeWidth={1.3} />
          <text x={plotLeft - 5} y={y(t) + 7} textAnchor="end" fontFamily={sans} fontSize={20} fill="#111">{t}</text>
        </g>
      ))}
      <text x={999} y={bottom + 44} textAnchor="middle" fontFamily={mono} fontSize={18} fill="#555">x/h</text>
      <text transform={`translate(587,${top + 343}) rotate(-90)`} textAnchor="middle" fontFamily={mono} fontSize={18} fill="#555">y/h</text>
      {bands.map((b) => (
        <rect key={b} x={barLeft} width={barRight - barLeft} y={bottom - (b + 1) * bandH} height={bandH + 0.5} fill={jet((b + 0.5) / bands.length)} />
      ))}
      <rect x={barLeft} y={top} width={barRight - barLeft} height={bottom - top} fill="none" stroke="#222" strokeWidth={1.2} />
      {barTicks.map((t) => (
        <g key={t}>
          <line x1={barLeft} x2={barLeft + 7} y1={bar(t)} y2={bar(t)} stroke="#222" strokeWidth={1.2} />
          <line x1={barRight} x2={barRight - 7} y1={bar(t)} y2={bar(t)} stroke="#222" strokeWidth={1.2} />
          <text x={barRight + 6} y={bar(t) + 7} fontFamily={sans} fontSize={20} fill="#111">{String(t).replace('-', '\u2212')}</text>
        </g>
      ))}
      <text x={barRight + 0} y={top - 10} fontFamily={sans} fontSize={19} fill="#111">x 10</text>
      <text x={barRight + 36} y={top - 23} fontFamily={sans} fontSize={14} fill="#111">{'\u2212'}4</text>
    </g>
  );
}

export default function App() {
  const sub = { fontSize: 15 };
  const bracket = { fontFamily: '"DejaVu Sans"', fontSize: 27 };
  return (
    <svg width={2048} height={2898} viewBox="0 0 2048 2898" style={{ position: 'absolute', left: 0, top: 0, background: '#fff' }}>
      <text x={310} y={290} fontFamily={serif} fontWeight="bold" fontSize={36} textLength={248} lengthAdjust="spacingAndGlyphs">CHAPTER 6.</text>
      <text x={584} y={290} fontFamily={serif} fontWeight="bold" fontSize={36} textLength={538} lengthAdjust="spacingAndGlyphs">RESULTS AND DISCUSSION</text>
      <text x={1796} y={290} textAnchor="end" fontFamily={serif} fontSize={36}>64</text>
      <line x1={310} x2={1796} y1={302} y2={302} stroke="#111" strokeWidth={2} />

      <g fontFamily={mono} fontSize={22} fill="#444">
        <text x={955} y={453} textAnchor="middle" style={bracket}>{'\u27E8'}</text>
        <text x={981} y={450} textAnchor="middle">u</text>
        <text x={993} y={461} textAnchor="middle" style={sub}>1</text>
        <text x={1006} y={450} textAnchor="middle">u</text>
        <text x={1018} y={461} textAnchor="middle" style={sub}>2</text>
        <text x={1041} y={453} textAnchor="middle" style={bracket}>{'\u27E9'}</text>
      </g>
      <Panel
        id="stress" top={474} bottom={1159} barDomain={[-1.2, 0]} barTicks={stressBarTicks}
        sets={[
          { color: stressColors[0], open: stressDarkOpen, rings: stressDarkRings },
          { color: stressColors[1], open: stressOrangeOpen, rings: stressOrangeRings },
          { color: stressColors[2], open: stressYellowOpen, rings: stressYellowRings },
          { color: stressColors[3], open: stressGreenOpen },
          { color: stressColors[4], open: stressCyanOpen, rings: stressCyanRings },
          { color: stressColors[5], rings: stressBlueRings },
          { color: stressColors[6], rings: stressNavyRings },
        ]}
      />
      <g fontFamily={serif} fontSize={33} fill="#111">
        <text x={796} y={1317} textLength={513} lengthAdjust="spacingAndGlyphs">
          Figure 6.6:  Reynolds stress {'\u27E8'}<tspan fontStyle="italic">u</tspan><tspan dy={6} fontSize={23}>1</tspan><tspan dy={-6} fontStyle="italic">u</tspan><tspan dy={6} fontSize={23}>2</tspan><tspan dy={-6}>{'\u27E9'}</tspan>
        </text>
        <text x={777} y={1357} textLength={244} lengthAdjust="spacingAndGlyphs">
          {'\u27E8'}<tspan fontStyle="italic">u</tspan><tspan dy={6} fontSize={23}>1</tspan><tspan dy={-6} fontStyle="italic">u</tspan><tspan dy={6} fontSize={23}>2</tspan><tspan dy={-6}>{'\u27E9'} Reynolds</tspan>
        </text>
        <text x={1331} y={1358} direction="rtl" fontWeight="bold" fontSize={37} style={{ unicodeBidi: 'embed' }}>איור <tspan fontFamily={sans} fontSize={26}>6.6:</tspan> שדה מאמצי</text>
      </g>

      <g fontFamily={mono} fontSize={22} fill="#444">
        <text x={970} y={1489} textAnchor="middle" style={bracket}>{'\u27E8'}</text>
        <text x={993} y={1486} textAnchor="middle">u</text>
        <text x={1006} y={1474} textAnchor="middle" style={sub}>2</text>
        <text x={1006} y={1498} textAnchor="middle" style={sub}>1</text>
        <text x={1029} y={1489} textAnchor="middle" style={bracket}>{'\u27E9'}</text>
      </g>
      <Panel
        id="energy" top={1511} bottom={2195} barDomain={[1, 6]} barTicks={energyBarTicks}
        sets={[
          { color: energyColors[0], open: energyNavyOpen, rings: energyNavyRings },
          { color: energyColors[1], open: energyBlueOpen },
          { color: energyColors[2], open: energySkyOpen },
          { color: energyColors[3], open: energyCyanOpen, rings: energyCyanRings },
          { color: energyColors[4], open: energyYellowOpen, rings: energyYellowRings },
          { color: energyColors[5], open: energyOrangeOpen, rings: energyOrangeRings },
          { color: energyColors[6], open: energyDarkOpen },
        ]}
      />
      <g fontFamily={serif} fontSize={33} fill="#111">
        <text x={742} y={2319} textLength={620} lengthAdjust="spacingAndGlyphs">
          Figure 6.7:  Streamwise kinetic energy <tspan fontStyle="italic">u</tspan><tspan dy={-12} fontSize={23}>2</tspan><tspan dy={18} dx={-11} fontSize={23}>1</tspan><tspan dy={-6}>.</tspan>
        </text>
        <text x={1322} y={2360} direction="rtl" fontSize={39} fontWeight="bold" style={{ unicodeBidi: 'embed' }}>איור <tspan fontFamily={sans} fontSize={26}>6.7:</tspan> אנרגיה קינטית בכוון הזרימה</text>
      </g>
    </svg>
  );
}
